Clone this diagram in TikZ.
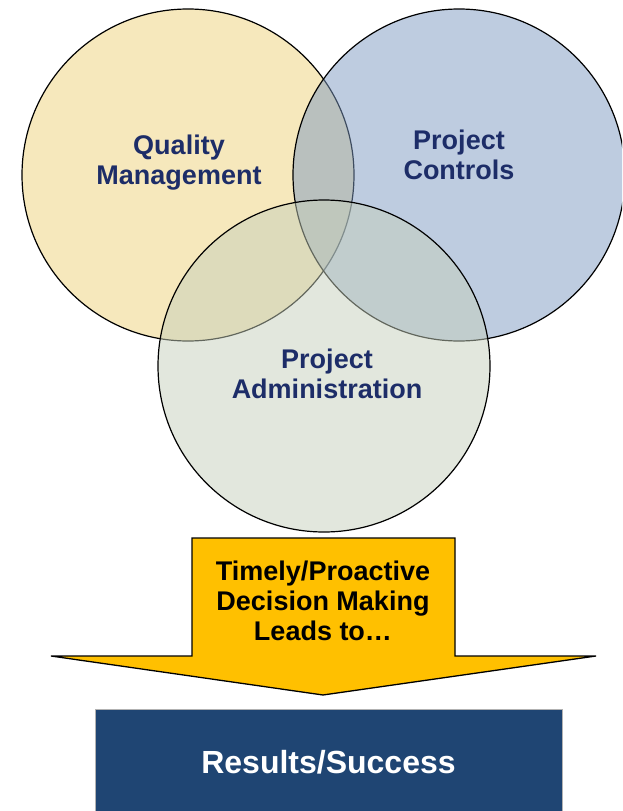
\documentclass[tikz,border=0pt]{standalone}
\usepackage{fontspec}
\setmainfont{Liberation Sans}
\usepackage{tikz}
\usepackage{xcolor}
\definecolor{qualityfill}{RGB}{237,209,121}
\definecolor{controlsfill}{RGB}{125,153,193}
\definecolor{adminfill}{RGB}{197,207,187}
\definecolor{circletext}{RGB}{29,45,104}
\definecolor{arrowfill}{RGB}{255,192,0}
\definecolor{resultsfill}{RGB}{31,69,115}

\begin{document}
\begin{tikzpicture}[x=1pt,y=-1pt]
	 \tikzstyle{area}=[circle,draw=black,line width=1.2pt,fill opacity=0.5,minimum size=332pt,inner sep=0pt]
	 \tikzstyle{area label}=[align=center,inner sep=0pt,text=circletext,font=\fontsize{27}{30}\selectfont\bfseries]
	 \tikzstyle{big arrow}=[draw=black,line width=1.3pt,fill=arrowfill,line join=miter]
	 \tikzstyle{arrow label}=[align=center,inner sep=0pt,text=black,font=\fontsize{27}{30}\selectfont\bfseries]
	 \tikzstyle{results box}=[rectangle,draw=black!30,line width=0.6pt,fill=resultsfill,minimum width=467pt,minimum height=106pt,inner sep=0pt,text=white,font=\fontsize{32}{36}\selectfont\bfseries]
	 \clip (0,0) rectangle (622,811);
	 \node[area,fill=qualityfill] (quality) at (188,175) {};
	 \node[area,fill=controlsfill] (controls) at (459,175) {};
	 \node[area,fill=adminfill] (admin) at (324,366) {};
	 \node[area label] (quality text) at (179,163) {Quality\\Management};
	 \node[area label] (controls text) at (459,154.5) {Project\\Controls};
	 \node[area label] (admin text) at (327,373.5) {Project\\Administration};
	 \draw[big arrow] (192,538) -- (455,538) -- (455,656) -- (596,656) -- (323,695) -- (51,656) -- (192,656) -- cycle;
	 \node[arrow label] (decision) at (323,600.5) {Timely/Proactive\\Decision Making\\Leads to\dots};
	 \node[results box] (results) at (328.5,762) {Results/Success};
 	\end{tikzpicture}
\end{document}
